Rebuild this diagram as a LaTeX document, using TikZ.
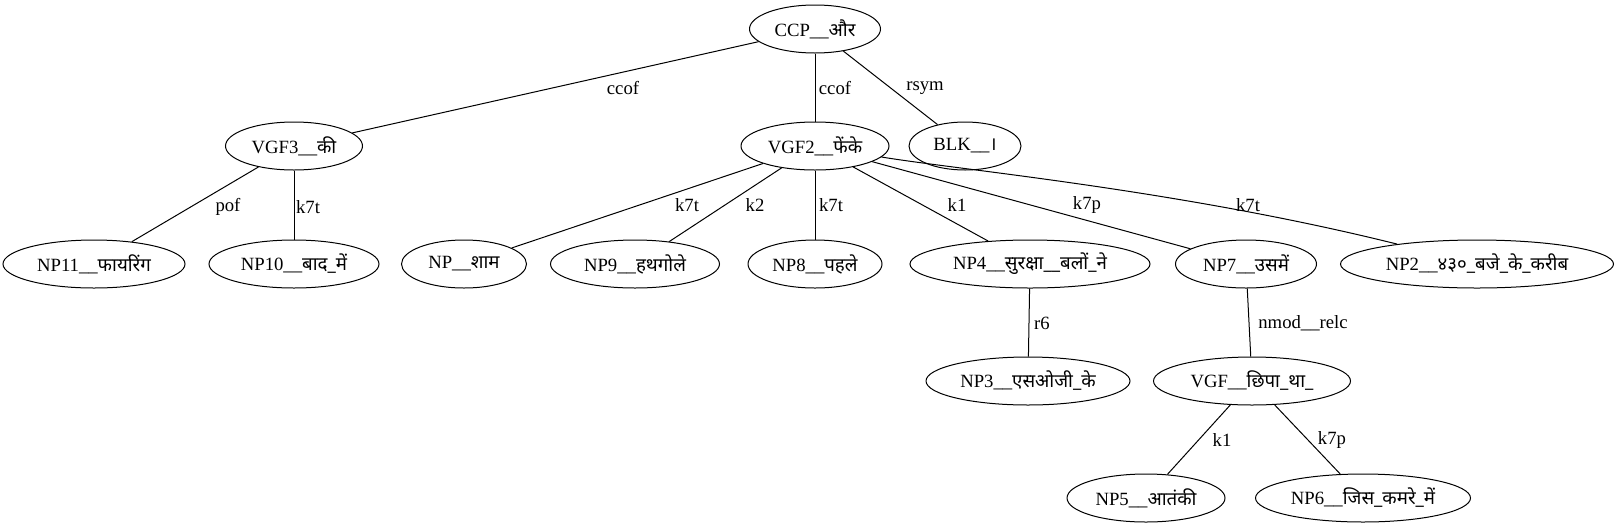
\documentclass[tikz,border=0pt]{standalone}
\usepackage{fontspec}
\setmainfont{Liberation Serif}
\newfontfamily\dv[Script=Devanagari]{Noto Sans}
\usetikzlibrary{shapes.geometric}
\begin{document}
\begin{tikzpicture}[x=1pt,y=-1pt,
  nd/.style={draw,ellipse,inner sep=0pt,minimum height=48pt,line width=1pt,font=\fontsize{18.7}{22}\selectfont},
  lbl/.style={inner sep=0pt,font=\fontsize{18.7}{22}\selectfont},
  edge/.style={draw,line width=1pt}]
\useasboundingbox (0,0) rectangle (1619,528);
% nodes
\node[nd,minimum width=131pt] (ccp)  at (815,29)  {CCP\_\_\dv और};
\node[nd,minimum width=137pt] (vgf3) at (294,146) {VGF3\_\_\dv की};
\node[nd,minimum width=148pt] (vgf2) at (815,146) {VGF2\_\_\dv फेंके};
\node[nd,minimum width=112pt] (blk)  at (965,146) {BLK\_\_\dv ।};
\node[nd,minimum width=182pt] (np11) at (94,264)  {NP11\_\_\dv फायरिंग};
\node[nd,minimum width=170pt] (np10) at (294,264) {NP10\_\_\dv बाद\_में};
\node[nd,minimum width=125pt] (np)   at (464,264) {NP\_\_\dv शाम};
\node[nd,minimum width=169pt] (np9)  at (635,264) {NP9\_\_\dv हथगोले};
\node[nd,minimum width=134pt] (np8)  at (815,264) {NP8\_\_\dv पहले};
\node[nd,minimum width=240pt] (np4)  at (1030,264) {NP4\_\_\dv सुरक्षा\_\_बलों\_ने};
\node[nd,minimum width=141pt] (np7)  at (1246,264) {NP7\_\_\dv उसमें};
\node[nd,minimum width=273pt] (np2)  at (1477,264) {NP2\_\_\dv ४३०\_बजे\_के\_करीब};
\node[nd,minimum width=204pt] (np3)  at (1028,381) {NP3\_\_\dv एसओजी\_के};
\node[nd,minimum width=197pt] (vgf)  at (1252,381) {VGF\_\_\dv छिपा\_था\_};
\node[nd,minimum width=158pt] (np5)  at (1146,498) {NP5\_\_\dv आतंकी};
\node[nd,minimum width=215pt] (np6)  at (1363,498) {NP6\_\_\dv जिस\_कमरे\_में};
% edges
\path[edge] (ccp) -- (vgf3);
\path[edge] (ccp) -- (vgf2);
\path[edge] (ccp) -- (blk);
\path[edge] (vgf3) -- (np11);
\path[edge] (vgf3) -- (np10);
\path[edge] (vgf2) -- (np);
\path[edge] (vgf2) -- (np9);
\path[edge] (vgf2) -- (np8);
\path[edge] (vgf2) -- (np4);
\path[edge] (vgf2) -- (np7);
\path[edge] (vgf2) .. controls (960,170) and (1180,190) .. (np2);
\path[edge] (np4) -- (np3);
\path[edge] (np7) -- (vgf);
\path[edge] (vgf) -- (np5);
\path[edge] (vgf) -- (np6);
% labels
\node[lbl] (l1) at (623,88) {ccof};
\node[lbl] (l2) at (835,88) {ccof};
\node[lbl] (l3) at (925,88) {rsym};
\node[lbl] (l4) at (228,207) {pof};
\node[lbl] (l5) at (308,207) {k7t};
\node[lbl] (l6) at (687,205) {k7t};
\node[lbl] (l7) at (755,205) {k2};
\node[lbl] (l8) at (831,205) {k7t};
\node[lbl] (l9) at (957,205) {k1};
\node[lbl] (l10) at (1087,205) {k7p};
\node[lbl] (l11) at (1248,205) {k7t};
\node[lbl] (l12) at (1042,323) {r6};
\node[lbl] (l13) at (1303,323) {nmod\_\_relc};
\node[lbl] (l14) at (1222,440) {k1};
\node[lbl] (l15) at (1332,440) {k7p};
\end{tikzpicture}
\end{document}
